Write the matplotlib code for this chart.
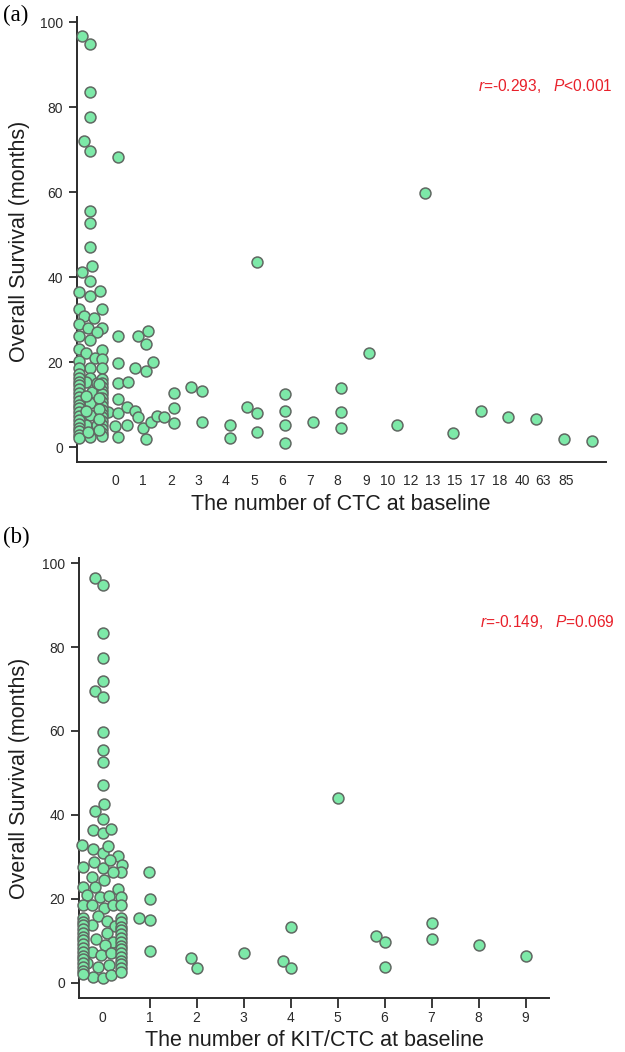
import numpy as np
import matplotlib
matplotlib.use('Agg')
from matplotlib import pyplot as plt

plt.rcParams['font.family'] = 'Liberation Sans'
plt.rcParams['mathtext.fontset'] = 'custom'
plt.rcParams['mathtext.rm'] = 'Liberation Sans'
plt.rcParams['mathtext.it'] = 'Liberation Sans:italic'

# ---- panel (a): number of CTC at baseline (x = category slot, jittered) ----
ctc_x = [
    -0.29, 0, 0, 0, -0.22, 0, 0, 0, 0, -0.30, 0.06, 0, -0.39, 0, 0.36,
    -0.39, -0.22, 0.42, 0.14, -0.39, -0.06, 0.42, 0.26, -0.39, 0, -0.39,
    -0.15, 0.42, 0.18, -0.39, 0.42, 0, -0.39, 0.42, 0, -0.15, 0.06, 0, 0,
    -0.15, 0, 0.24, 0.63, 0.24,
    # left stack
    -0.39, -0.39, -0.39, -0.39, -0.39, -0.39, -0.39, -0.39, -0.39,
    -0.39, -0.39, -0.39, -0.39, -0.39, -0.39, -0.39, -0.39, -0.39,
    # right stack
    0.42, 0.42, 0.42, 0.42, 0.42, 0.42, 0.42, 0.42,
    0.42, 0.42, 0.42, 0.42, 0.42, 0.42, 0.42, 0.42,
    # middle stack
    0.33, 0.33, 0.33, 0.33, 0.33, -0.15, -0.15, -0.06,
    # slots 1..18
    1, 1, 1, 1, 1, 1, 0.89, 1, 1.36, 1.32, 1.32,
    1.71, 2.07, 2.0, 1.61, 2.0, 2.25, 1.61, 1.71, 1.89, 2.0, 2.18, 2.39, 2.64,
    3, 3, 3, 3.61, 4, 4, 5, 5, 5.64, 6, 6, 6,
    7, 7, 7, 7, 8, 9, 9, 9, 10, 11, 12, 13, 14, 15, 16, 17, 18,
]
ctc_os = [
    96.7, 94.9, 83.5, 77.7, 72.1, 69.7, 55.5, 52.8, 47.1, 41.1, 42.6, 39.1, 36.4, 35.5, 36.7,
    32.5, 30.8, 32.6, 30.4, 28.9, 28.1, 28.1, 27.1, 26.1, 25.3, 23.1,
    22.2, 22.8, 20.9, 20.2, 20.7, 18.7, 18.7, 18.7, 16.2, 15.4, 13.0, 10.3, 7.5,
    5.2, 2.4, 5.2, 8.3, 15.0,
    17.2, 16.3, 15.4, 14.5, 13.6, 12.7, 11.8, 10.9, 10.0,
    9.1, 8.2, 7.3, 6.4, 5.5, 4.6, 3.7, 2.8, 2.1,
    16.0, 15.1, 14.2, 13.3, 12.4, 11.5, 10.6, 9.7,
    8.8, 7.9, 7.0, 6.1, 5.2, 4.3, 3.4, 2.5,
    14.8, 11.6, 9.0, 6.5, 4.0, 12.0, 8.6, 3.6,
    68.3, 26.2, 19.8, 15.1, 11.3, 8.0, 5.0, 2.4, 15.4, 9.5, 5.2,
    26.1, 27.3, 24.2, 18.6, 18.0, 20.1, 8.5, 7.1, 4.5, 1.9, 6.0, 7.3, 7.1,
    12.8, 9.2, 5.7, 14.2, 13.2, 6.0, 5.2, 2.1, 9.5, 8.0, 3.6, 43.5,
    12.5, 8.5, 5.2, 1.0, 5.8, 14.0, 8.3, 4.5, 22.2, 5.2, 59.7, 3.4, 8.6, 7.2, 6.5, 1.8, 1.4,
]
ctc_tick_labels = ['0', '1', '2', '3', '4', '5', '6', '7', '8', '9',
                   '10', '12', '13', '15', '17', '18', '40', '63', '85']
ctc_tick_pos = [0.89, 1.90, 2.90, 3.87, 4.87, 5.88, 6.88, 7.89, 8.85, 9.89,
                10.68, 11.51, 12.30, 13.09, 13.91, 14.67, 15.49, 16.24, 17.07]

# ---- panel (b): number of KIT/CTC at baseline ----
kit_x = [
    -0.16, 0, 0, 0, 0, -0.17, 0, 0, 0, 0, 0, 0.03, -0.16, 0, -0.2, 0, 0.18,
    -0.43, -0.2, 0, 0.12, 0.32, 0.42, 0.40, -0.41, -0.18, 0.01, 0.16, 0.23,
    -0.23, 0.04, -0.41, -0.15, 0.32, -0.32, -0.06, 0.13, 0.40, -0.41, -0.22,
    0.04, 0.23, 0.40, -0.09, -0.22, 0.09, 0.26, 0.09, -0.13, 0.23, 0.05,
    -0.22, -0.04, 0.19, -0.32, -0.09, 0.13, -0.2, 0, 0.18,
    # left stack
    -0.41, -0.41, -0.41, -0.41, -0.41, -0.41, -0.41, -0.41,
    -0.41, -0.41, -0.41, -0.41, -0.41, -0.41, -0.41, -0.41,
    # right stack
    0.40, 0.40, 0.40, 0.40, 0.40, 0.40, 0.40, 0.40,
    0.40, 0.40, 0.40, 0.40, 0.40, 0.40, 0.40,
    # 1..9
    0.99, 1, 0.77, 1, 1, 1.89, 2, 3, 3.84, 4, 4, 5, 5.82, 6, 6, 7, 7, 8, 9,
]
kit_os = [
    96.5, 94.7, 83.3, 77.5, 72.0, 69.6, 68.2, 59.7, 55.5, 52.7, 47.1, 42.5, 41.0, 39.0, 36.3, 35.6, 36.7,
    32.9, 31.9, 30.9, 32.6, 30.3, 28.1, 26.3, 27.7, 28.9, 27.3, 29.3, 26.3,
    25.3, 24.5, 22.9, 22.8, 22.4, 21.0, 20.4, 20.8, 20.4, 18.6, 18.6,
    17.9, 18.6, 18.6, 16.0, 13.8, 14.8, 13.6, 11.8, 10.5, 9.7, 9.0,
    7.3, 6.7, 7.1, 4.7, 3.9, 4.3, 1.5, 1.1, 1.9,
    15.4, 14.6, 13.7, 12.8, 11.9, 11.0, 10.1, 9.2,
    8.3, 7.4, 6.5, 5.6, 4.7, 3.8, 2.9, 2.2,
    15.4, 14.4, 13.4, 12.5, 11.6, 10.7, 9.8, 8.9,
    8.0, 7.1, 6.2, 5.3, 4.4, 3.5, 2.5,
    26.3, 19.9, 15.4, 15.0, 7.5, 6.0, 3.6, 7.1, 5.3, 3.5, 13.2, 44.0, 11.2, 9.8, 3.9, 14.2, 10.4, 9.1, 6.4,
]
kit_ticks = [0, 1, 2, 3, 4, 5, 6, 7, 8, 9]

face = '#7de9a8'
edge = '#606862'
axis_col = '#2b2b2b'
red = '#e8202a'

W, H = 625, 1052
fig = plt.figure(figsize=(W / 100, H / 100), dpi=100)


def px(x, y):
    return x / W, 1 - y / H


def style(ax, ylim):
    for s in ['top', 'right']:
        ax.spines[s].set_visible(False)
    for s in ['left', 'bottom']:
        ax.spines[s].set_color(axis_col)
        ax.spines[s].set_linewidth(1.4)
    ax.set_ylim(*ylim)
    ax.set_yticks([0, 20, 40, 60, 80, 100])
    ax.tick_params(axis='y', length=6, width=1.3, color=axis_col, pad=4,
                   labelsize=10, labelcolor='#2a2a2a')


# panel a
ax1 = fig.add_axes([77 / W, 1 - 462 / H, 529 / W, 445 / H])
ax1.scatter(ctc_x, ctc_os, s=62, c=face, edgecolors=edge, linewidths=1.1,
            zorder=3, clip_on=False)
style(ax1, (-3.5, 101.2))
ax1.set_xlim(-0.47, 18.5)
ax1.set_xticks(ctc_tick_pos)
ax1.set_xticklabels(ctc_tick_labels)
ax1.tick_params(axis='x', length=0, pad=9, labelsize=10, labelcolor='#2a2a2a')

# panel b
ax2 = fig.add_axes([79 / W, 1 - 998 / H, 470 / W, 440 / H])
ax2.scatter(kit_x, kit_os, s=62, c=face, edgecolors=edge, linewidths=1.1,
            zorder=3, clip_on=False)
style(ax2, (-3.6, 101.2))
ax2.set_xlim(-0.5, 9.5)
ax2.set_xticks(kit_ticks)
ax2.tick_params(axis='x', length=7, width=1.3, color=axis_col, pad=2.5,
                labelsize=10, labelcolor='#2a2a2a')
ax2.xaxis.get_major_ticks()[0].tick1line.set_visible(False)

# labels
lab = dict(fontsize=15.5, color='#1e1e1e')
fig.text(*px(19.5, 241), 'Overall Survival (months)', rotation=90,
         ha='center', va='center', **lab)
fig.text(*px(19.5, 778), 'Overall Survival (months)', rotation=90,
         ha='center', va='center', **lab)
fig.text(*px(341, 505), 'The number of CTC at baseline', ha='center', va='center', **lab)
fig.text(*px(314, 1040), 'The number of KIT/CTC at baseline', ha='center', va='center', **lab)

fig.text(*px(3, 15), '(a)', family='Liberation Serif', fontsize=16.5,
         ha='left', va='center')
fig.text(*px(3, 537), '(b)', family='Liberation Serif', fontsize=16.5,
         ha='left', va='center')

fig.text(*px(613, 86), r'$\it{r}$=-0.293,   $\it{P}$<0.001', color=red,
         fontsize=11.2, ha='right', va='center')
fig.text(*px(615, 622), r'$\it{r}$=-0.149,   $\it{P}$=0.069', color=red,
         fontsize=11.2, ha='right', va='center')

plt.savefig('out.png', dpi=100)
